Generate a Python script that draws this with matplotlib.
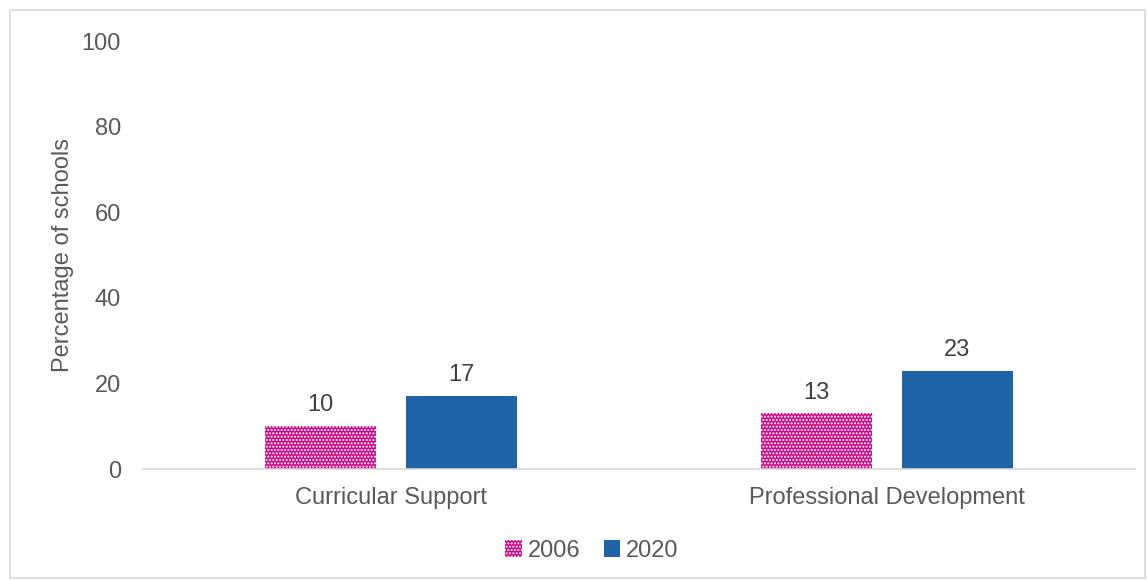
import matplotlib.pyplot as plt
import matplotlib as mpl
from matplotlib.patches import Rectangle
import numpy as np

plt.rcParams['font.family'] = ['Liberation Sans', 'DejaVu Sans']
mpl.rcParams['hatch.linewidth'] = 1.0

categories = ["Curricular Support", "Professional Development"]
series_names = ["2006", "2020"]
values_2006 = [10, 13]
values_2020 = [17, 23]
y_ticks = [0, 20, 40, 60, 80, 100]

text_color = "#595959"
magenta = "#CC0A85"
blue = "#1F64A6"
fs = 17

fig = plt.figure(figsize=(11.47, 5.80), dpi=100)
fig.patch.set_facecolor("white")
fig.add_artist(Rectangle((10 / 1147, 2 / 580), 1135 / 1147, 568 / 580,
                         transform=fig.transFigure, fill=False,
                         edgecolor="#D9D9D9", linewidth=1.2))

ax = fig.add_axes([143 / 1147, (580 - 469) / 580, (1135 - 143) / 1147, (469 - 41) / 580])

x = np.arange(len(categories))
bw = 0.224
gap = 0.06
off = (bw + gap) / 2

bars1 = ax.bar(x - off, values_2006, bw, color=magenta, edgecolor="white",
               hatch=".....", linewidth=0, label=series_names[0])
bars2 = ax.bar(x + off, values_2020, bw, color=blue, linewidth=0,
               label=series_names[1])

for bars, vals in ((bars1, values_2006), (bars2, values_2020)):
    for b, v in zip(bars, vals):
        ax.text(b.get_x() + b.get_width() / 2, v + 2.3, f"{v}",
                ha="center", va="bottom", fontsize=fs, color="#404040")

ax.set_xlim(-0.5, 1.5)
ax.set_ylim(0, 100)
ax.set_yticks(y_ticks)
ax.set_yticklabels([str(t) for t in y_ticks])
ax.set_xticks(x)
ax.set_xticklabels(categories)
ax.tick_params(axis="both", length=0, labelsize=fs, labelcolor=text_color)
ax.tick_params(axis="y", pad=16)
ax.tick_params(axis="x", pad=13)

for s in ("top", "right", "left"):
    ax.spines[s].set_visible(False)
ax.spines["bottom"].set_color("#D9D9D9")
ax.spines["bottom"].set_linewidth(1.2)

ax.set_ylabel("Percentage of schools", fontsize=fs, color=text_color, labelpad=5)

leg = ax.legend(loc="center", bbox_to_anchor=((592 - 143) / 992, -(551 - 469) / 428),
                ncol=2, frameon=False, fontsize=fs, handlelength=0.7, handleheight=0.7,
                handletextpad=0.25, columnspacing=1.0, labelcolor=text_color)

fig.savefig("out.png", dpi=100, facecolor="white")
